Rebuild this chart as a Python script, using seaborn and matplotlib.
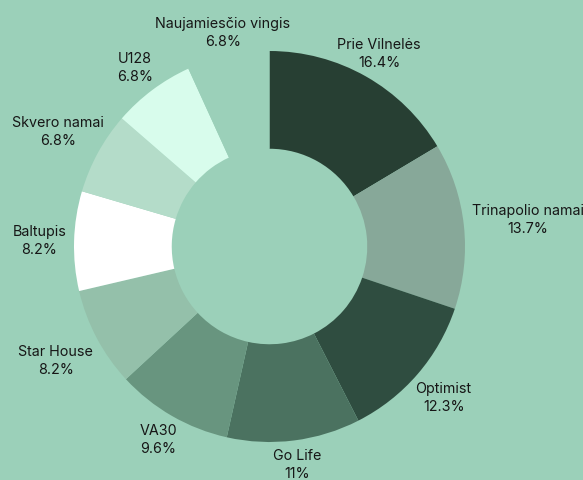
import numpy as np
import matplotlib
matplotlib.use("Agg")
import matplotlib.pyplot as plt
import seaborn as sns

# Data
projects = ["Prie Vilnelės", "Trinapolio namai", "Optimist", "Go Life", "VA30",
            "Star House", "Baltupis", "Skvero namai", "U128", "Naujamiesčio vingis"]
shares = [16.4, 13.7, 12.3, 11, 9.6, 8.2, 8.2, 6.8, 6.8, 6.8]
colors = ["#273f33", "#87a899", "#2f4d40", "#4b7260", "#68957f",
          "#94c0aa", "#ffffff", "#b4dcc9", "#d8fcec", "#9bd0b9"]

bg = "#9bd0b9"

sns.set_theme(style="white")
plt.rcParams["font.family"] = ["Inter", "DejaVu Sans"]

W, H = 583, 481
fig = plt.figure(figsize=(W / 100, H / 100), dpi=100, facecolor=bg)
ax = fig.add_axes([0, 0, 1, 1])
ax.set_facecolor(bg)

wedges, _ = ax.pie(shares, colors=colors, startangle=90, counterclock=False,
                   wedgeprops=dict(width=0.5, linewidth=0))

# place the donut: centre at (269.5, 247.5) px from top-left, radius 195.5 px
r_px = 195.5
cx, cy = 269.5, 247.5
ax.set_xlim(-cx / r_px, (W - cx) / r_px)
ax.set_ylim(-(H - cy) / r_px, cy / r_px)
ax.set_aspect("auto")
ax.axis("off")

# Labels outside, padded box edge touching an anchor ring
fig.canvas.draw()
renderer = fig.canvas.get_renderer()
anchor = 1.02
pad = 4
for w, name, v in zip(wedges, projects, shares):
    ang = np.deg2rad((w.theta1 + w.theta2) / 2)
    ux, uy = np.cos(ang), np.sin(ang)
    txt = ax.text(anchor * ux, anchor * uy, f"{name}\n{v:g}%",
                  ha="center", va="center", multialignment="center",
                  fontsize=10.3, color="#161616", linespacing=1.35)
    bb = txt.get_window_extent(renderer)
    hw, hh = bb.width / 2 + pad, bb.height / 2 + pad
    t = min(hw / abs(ux) if abs(ux) > 1e-6 else np.inf,
            hh / abs(uy) if abs(uy) > 1e-6 else np.inf)
    txt.set_position(((anchor + t / r_px) * ux, (anchor + t / r_px) * uy))

fig.savefig("out.png", dpi=100, facecolor=bg)
